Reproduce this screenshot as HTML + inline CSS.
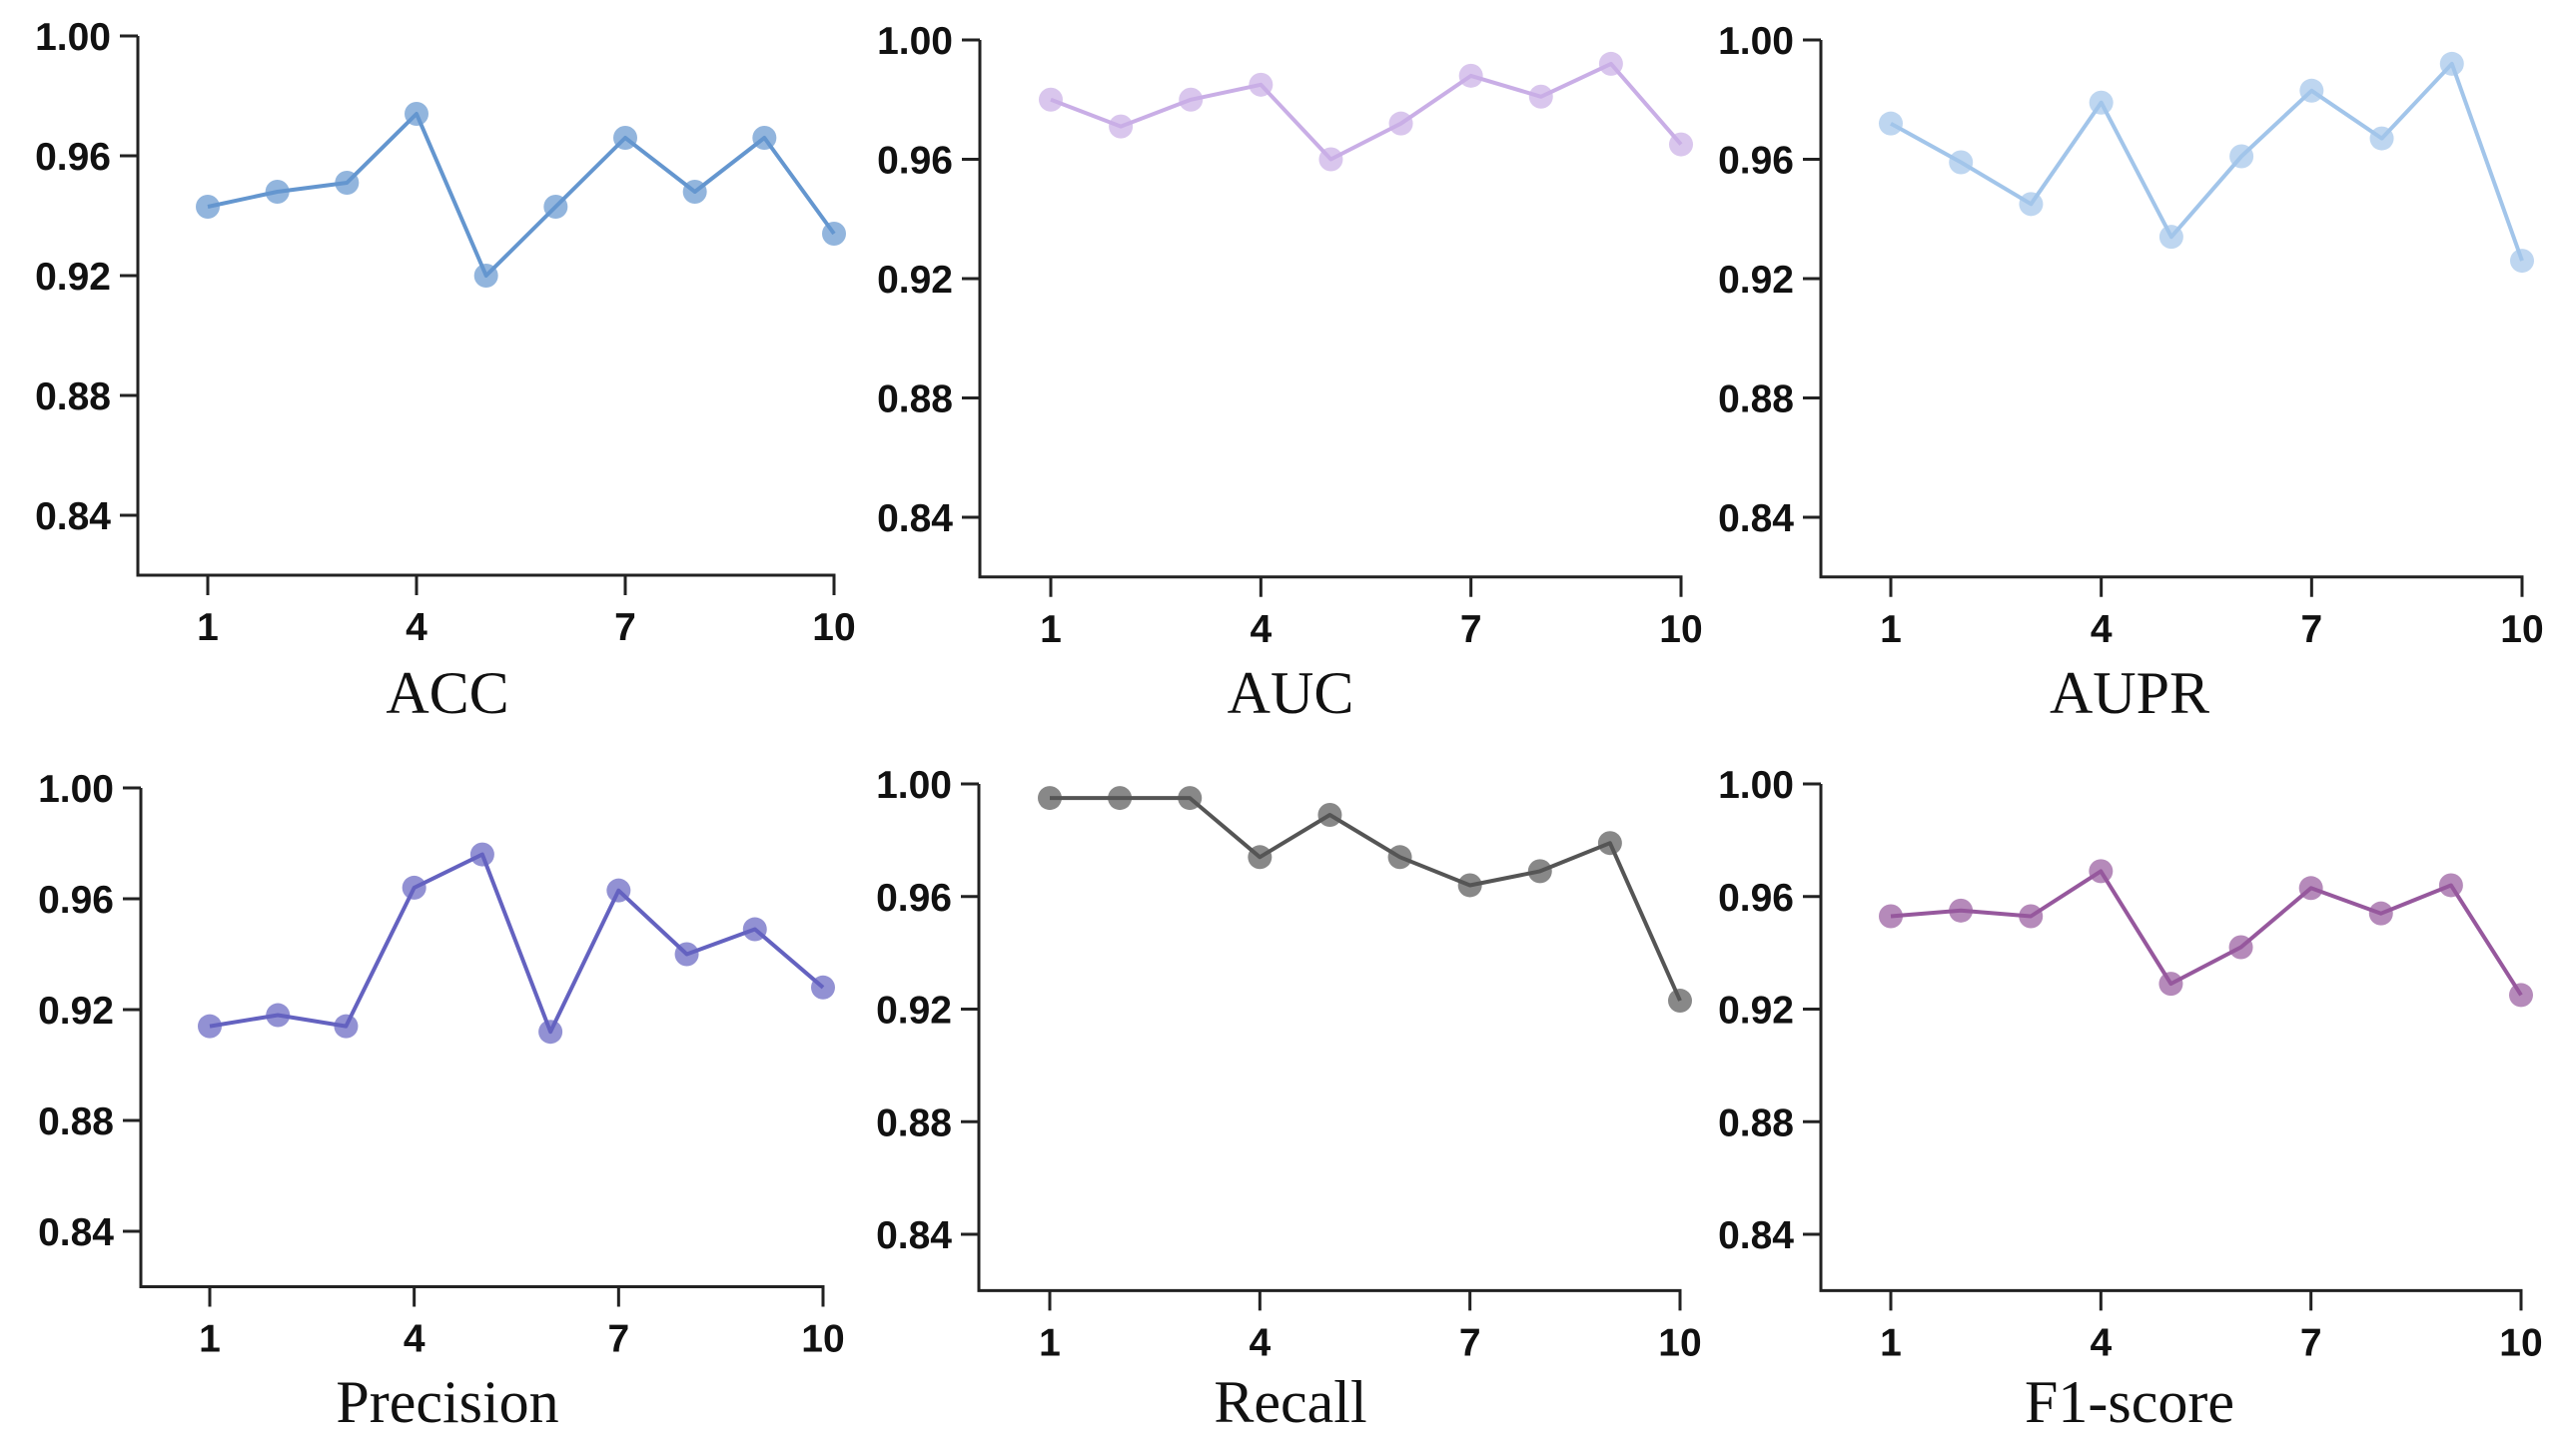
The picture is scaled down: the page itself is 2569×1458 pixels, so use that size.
<!DOCTYPE html>
<html><head><meta charset="utf-8">
<style>
html,body{margin:0;padding:0;background:#fff;}
svg{display:block;}
.tk{font-family:"Liberation Sans",Arial,sans-serif;font-weight:bold;font-size:39px;fill:#111;}
.tt{font-family:"Liberation Serif","Times New Roman",serif;font-size:60px;fill:#111;}
</style></head>
<body>
<svg id="chart" width="2569" height="1458" viewBox="0 0 2569 1458" xmlns="http://www.w3.org/2000/svg"></svg>
<script>
const folds = [1,2,3,4,5,6,7,8,9,10];
const xTickLabels = [1,4,7,10];
const yTickValues = [0.84,0.88,0.92,0.96,1.00];
const yTickLabels = ["0.84","0.88","0.92","0.96","1.00"];
const metricNames = ["ACC","AUC","AUPR","Precision","Recall","F1-score"];
const accValues = [0.943,0.948,0.951,0.974,0.920,0.943,0.966,0.948,0.966,0.934];
const aucValues = [0.980,0.971,0.980,0.985,0.960,0.972,0.988,0.981,0.992,0.965];
const auprValues = [0.972,0.959,0.945,0.979,0.934,0.961,0.983,0.967,0.992,0.926];
const precisionValues = [0.914,0.918,0.914,0.964,0.976,0.912,0.963,0.940,0.949,0.928];
const recallValues = [0.995,0.995,0.995,0.974,0.989,0.974,0.964,0.969,0.979,0.923];
const f1Values = [0.953,0.955,0.953,0.969,0.929,0.942,0.963,0.954,0.964,0.925];

const seriesList = [accValues,aucValues,auprValues,precisionValues,recallValues,f1Values];
const colors = ["#6496cf","#c9aee6","#a2c5ea","#6462c0","#555555","#96589d"];
const layouts = [
 {ax:138,x1:208,x10:835,y100:36,y084:516,tx:448,ty:714},
 {ax:981,x1:1052,x10:1683,y100:40,y084:518,tx:1292,ty:714},
 {ax:1823,x1:1893,x10:2525,y100:40,y084:518,tx:2132,ty:714},
 {ax:141,x1:210,x10:824,y100:789,y084:1233,tx:448,ty:1424},
 {ax:980,x1:1051,x10:1682,y100:785,y084:1236,tx:1292,ty:1424},
 {ax:1823,x1:1893,x10:2524,y100:785,y084:1236,tx:2132,ty:1424}
];
const NS="http://www.w3.org/2000/svg";
const svg=document.getElementById('chart');
function mk(tag,attrs,parent){const e=document.createElementNS(NS,tag);for(const k in attrs)e.setAttribute(k,attrs[k]);parent.appendChild(e);return e;}
const slug=n=>n.toLowerCase().replace(/[^a-z0-9]+/g,'-');
layouts.forEach((L,i)=>{
  const name=slug(metricNames[i]);
  const g=mk('g',{},svg);
  
  
  const yScale=v=>L.y084-(v-0.84)/(1.00-0.84)*(L.y084-L.y100);
  const xScale=f=>L.x1+(f-1)/(10-1)*(L.x10-L.x1);
  const yBottom=yScale(0.82);
  const ya=mk('line',{x1:L.ax,y1:L.y100,x2:L.ax,y2:yBottom,stroke:'#222','stroke-width':3},g);
  
  
  const xa=mk('line',{x1:L.ax-1.5,y1:yBottom,x2:L.x10+1.5,y2:yBottom,stroke:'#222','stroke-width':3},g);
  
  
  yTickValues.forEach((v,k)=>{
    const y=yScale(v);
    mk('line',{x1:L.ax-18,y1:y,x2:L.ax,y2:y,stroke:'#222','stroke-width':3},g);
    const t=mk('text',{x:L.ax-27,y:y+14,'text-anchor':'end',class:'tk'},g);
    t.textContent=yTickLabels[k];
    
    
  });
  xTickLabels.forEach(f=>{
    const x=xScale(f);
    mk('line',{x1:x,y1:yBottom,x2:x,y2:yBottom+20,stroke:'#222','stroke-width':3},g);
    const t=mk('text',{x:x,y:yBottom+65,'text-anchor':'middle',class:'tk'},g);
    t.textContent=f;
    
    
  });
  const title=mk('text',{x:L.tx,y:L.ty,'text-anchor':'middle',class:'tt'},g);
  title.textContent=metricNames[i];
  
  
  const vals=seriesList[i];
  const pts=vals.map((v,k)=>xScale(folds[k]).toFixed(1)+','+yScale(v).toFixed(1)).join(' ');
  const line=mk('polyline',{points:pts,fill:'none',stroke:colors[i],'stroke-width':4,'stroke-linejoin':'round'},g);
  
  
  vals.forEach((v,k)=>{
    const c=mk('circle',{cx:xScale(folds[k]),cy:yScale(v),r:12,fill:colors[i],'fill-opacity':0.7},g);
    
    
  });
});
</script>
</body></html>
